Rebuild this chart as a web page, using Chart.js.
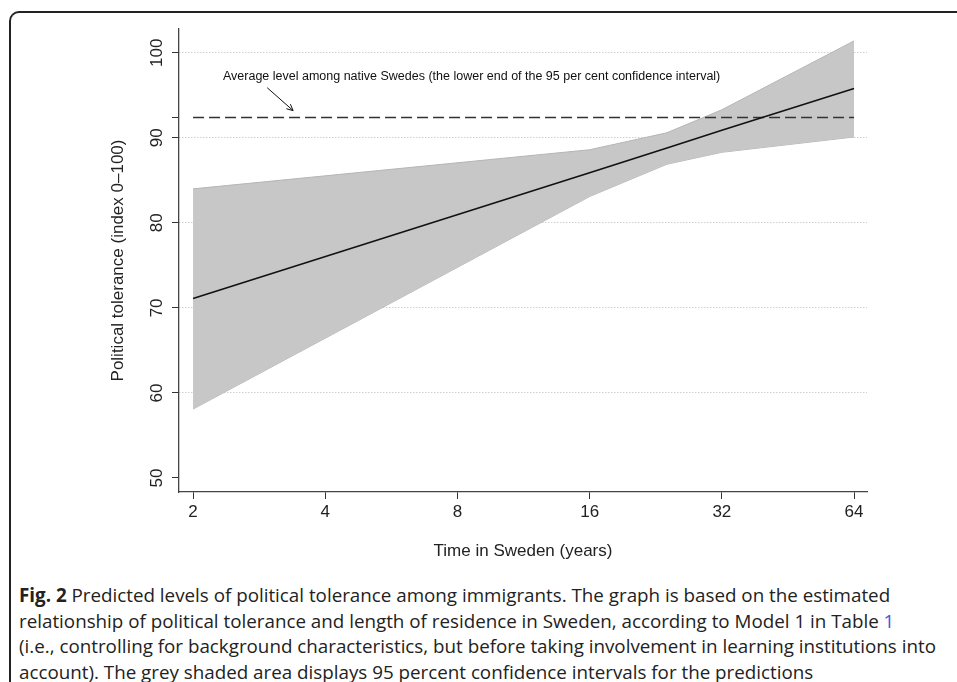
<!DOCTYPE html>
<html>
<head>
<meta charset="utf-8">
<script src="https://cdn.jsdelivr.net/npm/chart.js@4.4.1/dist/chart.umd.min.js"></script>
<style>
  body { margin: 0; background: #fff; }
  #page { position: relative; width: 957px; height: 682px; overflow: hidden; background: #fff; }
  #frame { position: absolute; left: 9px; top: 11px; width: 1000px; height: 700px;
           border-top: 2px solid #222; border-left: 2px solid #222; border-top-left-radius: 10px; }
  #wrap { position: absolute; left: 0; top: 0; width: 957px; height: 570px; }
  #caption { position: absolute; left: 19px; top: 583px; white-space: nowrap;
             font-family: "Open Sans", sans-serif; font-size: 18.8px; line-height: 25.5px; color: #222; }
  #caption b { font-weight: 700; }
  #caption .ref { color: #3d5bd6; }
</style>
</head>
<body>
<div id="page">
  <div id="frame"></div>
  <div id="wrap"><canvas id="myChart" width="957" height="570"></canvas></div>
  <div id="caption"><b>Fig. 2</b> Predicted levels of political tolerance among immigrants. The graph is based on the estimated<br>relationship of political tolerance and length of residence in Sweden, according to Model 1 in Table <span class="ref">1</span><br>(i.e., controlling for background characteristics, but before taking involvement in learning institutions into<br>account). The grey shaded area displays 95 percent confidence intervals for the predictions</div>
</div>
<script>
// values
const years = [2, 16, 24, 32, 64];
const predicted = [71.1, 85.9, 88.8, 90.9, 95.8];
const upperCI = [84.0, 88.6, 90.6, 93.3, 101.4];
const lowerCI = [58.1, 83.1, 86.9, 88.3, 90.1];
const nativeLevel = 92.4;
const xTicks = [2, 4, 8, 16, 32, 64];
const yTicks = [50, 60, 70, 80, 90, 100];
const noteText = 'Average level among native Swedes (the lower end of the 95 per cent confidence interval)';

const FONT = '"Liberation Sans", Arial, Helvetica, sans-serif';

function points(ys) {
    return years.map((x, i) => ({ x: x, y: ys[i] }));
}

// text and arrow pointing at the dashed line
const notePlugin = {
    id: 'note',
    afterDatasetsDraw(chart) {
        const ctx = chart.ctx;
        const xs = chart.scales.x;
        const ys = chart.scales.y;
        ctx.save();
        ctx.font = '12.5px ' + FONT;
        ctx.fillStyle = '#111';
        ctx.textBaseline = 'middle';
        ctx.textAlign = 'left';
        ctx.fillText(noteText, xs.getPixelForValue(2.34), ys.getPixelForValue(97.2));

        const x1 = xs.getPixelForValue(2.95), y1 = ys.getPixelForValue(95.9);
        const x2 = xs.getPixelForValue(3.38), y2 = ys.getPixelForValue(93.2);
        ctx.strokeStyle = '#111';
        ctx.lineWidth = 1;
        ctx.beginPath();
        ctx.moveTo(x1, y1);
        ctx.lineTo(x2, y2);
        const a = Math.atan2(y2 - y1, x2 - x1);
        ctx.moveTo(x2 - 7 * Math.cos(a - 0.45), y2 - 7 * Math.sin(a - 0.45));
        ctx.lineTo(x2, y2);
        ctx.lineTo(x2 - 7 * Math.cos(a + 0.45), y2 - 7 * Math.sin(a + 0.45));
        ctx.stroke();
        ctx.restore();
    }
};

const ctx = document.getElementById('myChart');

new Chart(ctx, {
    type: 'line',
    data: {
        datasets: [{
            label: 'predicted',
            data: points(predicted),
            borderColor: '#111',
            borderWidth: 1.6,
            pointRadius: 0,
            fill: false,
            order: 0
        }, {
            label: 'native',
            data: [{ x: 2, y: nativeLevel }, { x: 64, y: nativeLevel }],
            borderColor: '#333',
            borderWidth: 1.5,
            borderDash: [11, 5],
            pointRadius: 0,
            fill: false,
            order: 0
        }, {
            label: 'lower',
            data: points(lowerCI),
            borderColor: '#b4b5b4',
            borderWidth: 1,
            pointRadius: 0,
            fill: false,
            order: 2
        }, {
            label: 'upper',
            data: points(upperCI),
            borderColor: '#b4b5b4',
            borderWidth: 1,
            backgroundColor: '#c6c7c6',
            pointRadius: 0,
            fill: 2,
            order: 1
        }]
    },
    options: {
        responsive: false,
        animation: false,
        layout: { padding: { left: 0, top: 29, right: 90, bottom: 0 } },
        plugins: {
            legend: { display: false },
            tooltip: { enabled: false },
            filler: { propagate: false }
        },
        scales: {
            x: {
                type: 'logarithmic',
                min: 1.858,
                max: 68.5,
                afterBuildTicks: s => { s.ticks = xTicks.map(v => ({ value: v })); },
                afterFit: s => { s.height = 78; },
                grid: { drawOnChartArea: false, tickLength: 7, tickColor: '#333', tickWidth: 1 },
                border: { color: '#444', width: 1.3 },
                ticks: {
                    callback: v => String(v),
                    color: '#222',
                    padding: 3,
                    maxRotation: 0,
                    font: { family: FONT, size: 17 }
                },
                title: {
                    display: true,
                    text: 'Time in Sweden (years)',
                    color: '#222',
                    font: { family: FONT, size: 17 },
                    padding: { top: 0, bottom: 8 }
                }
            },
            y: {
                min: 48.35,
                max: 102.8,
                afterBuildTicks: s => {
                    s.ticks = yTicks.concat([nativeLevel]).sort((a, b) => a - b).map(v => ({ value: v }));
                },
                afterFit: s => { s.width = 179; },
                grid: {
                    color: c => (c.tick && c.tick.value >= 60 && yTicks.includes(c.tick.value)) ? '#b9b9b9' : 'rgba(0,0,0,0)',
                    tickLength: 7,
                    tickColor: '#333',
                    tickWidth: 1
                },
                border: { color: '#444', width: 1.3, dash: [1, 2] },
                ticks: {
                    callback: v => yTicks.includes(v) ? String(v) : '',
                    color: '#222',
                    padding: 1,
                    minRotation: 90,
                    maxRotation: 90,
                    crossAlign: 'center',
                    font: { family: FONT, size: 17 }
                },
                title: {
                    display: true,
                    text: 'Political tolerance (index 0–100)',
                    color: '#222',
                    font: { family: FONT, size: 17 },
                    padding: { top: 108, bottom: 0 }
                }
            }
        }
    },
    plugins: [notePlugin]
});
</script>
</body>
</html>
